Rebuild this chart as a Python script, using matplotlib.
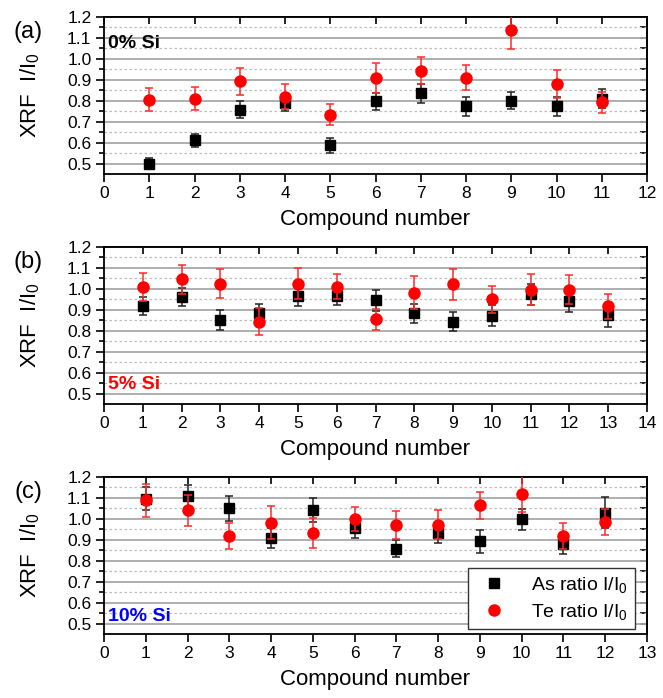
import matplotlib
matplotlib.use("Agg")
import matplotlib.pyplot as plt
from matplotlib.lines import Line2D
import numpy as np

plt.rcParams['font.family'] = ['Liberation Sans', 'DejaVu Sans']
plt.rcParams['mathtext.fontset'] = 'custom'
plt.rcParams['mathtext.rm'] = 'Liberation Sans'
plt.rcParams['mathtext.it'] = 'Liberation Sans:italic'

# panel (a) 0% Si
as_a = [0.50, 0.611, 0.757, 0.79, 0.587, 0.798, 0.836, 0.773, 0.801, 0.773, 0.81]
as_a_err = [0.025, 0.03, 0.04, 0.04, 0.035, 0.04, 0.045, 0.045, 0.04, 0.045, 0.045]
te_a = [0.804, 0.809, 0.893, 0.82, 0.734, 0.909, 0.944, 0.909, 1.137, 0.88, 0.793]
te_a_err = [0.055, 0.055, 0.065, 0.06, 0.05, 0.07, 0.065, 0.06, 0.09, 0.065, 0.05]

# panel (b) 5% Si
as_b = [0.917, 0.961, 0.850, 0.885, 0.966, 0.966, 0.945, 0.883, 0.843, 0.872, 0.974, 0.94, 0.875]
as_b_err = [0.044, 0.045, 0.047, 0.045, 0.05, 0.045, 0.05, 0.045, 0.045, 0.05, 0.05, 0.05, 0.055]
te_b = [1.009, 1.045, 1.025, 0.843, 1.025, 1.01, 0.855, 0.982, 1.021, 0.951, 0.996, 0.996, 0.917]
te_b_err = [0.068, 0.07, 0.07, 0.065, 0.075, 0.06, 0.05, 0.08, 0.075, 0.065, 0.075, 0.068, 0.06]

# panel (c) 10% Si
as_c = [1.097, 1.107, 1.05, 0.909, 1.043, 0.957, 0.858, 0.933, 0.893, 0.998, 0.88, 1.03]
as_c_err = [0.055, 0.055, 0.058, 0.048, 0.058, 0.05, 0.042, 0.048, 0.055, 0.05, 0.05, 0.075]
te_c = [1.088, 1.04, 0.917, 0.982, 0.933, 0.998, 0.97, 0.973, 1.065, 1.12, 0.918, 0.984]
te_c_err = [0.08, 0.075, 0.062, 0.08, 0.07, 0.058, 0.068, 0.068, 0.065, 0.085, 0.06, 0.063]

panel_letters = ['(a)', '(b)', '(c)']
si_labels = ['0% Si', '5% Si', '10% Si']
si_colors = ['black', '#ff0000', '#0000ff']
si_text_y = [0.83, 0.12, 0.11]
x_max = [12, 14, 13]

W, H = 663, 698
fig = plt.figure(figsize=(W / 100, H / 100), dpi=100)

# axes placement in pixels
px_left, px_right = 104, 647
px_tops = [17, 247, 477]
px_h = 156.6


def draw_panel(ax, n_max, as_v, as_e, te_v, te_e):
    x_as = np.arange(1, len(as_v) + 1)
    x_te = np.arange(1, len(te_v) + 1)

    ax.set_axisbelow(True)
    ax.set_yticks(np.arange(0.5, 1.21, 0.1))
    ax.set_yticks(np.arange(0.55, 1.16, 0.1), minor=True)
    ax.grid(axis='y', which='major', color='#a8a8a8', lw=1.3, ls='-')
    ax.grid(axis='y', which='minor', color='#bdbdbd', lw=0.9, ls=(0, (2, 2)))

    ax.errorbar(x_as, as_v, yerr=as_e, fmt='s', ms=7.5, color='black',
                ecolor='#222222', elinewidth=1.1, capsize=3.2, capthick=1.1, zorder=3)
    ax.errorbar(x_te, te_v, yerr=te_e, fmt='o', ms=8, color='#ff0000',
                ecolor='#ff2a2a', elinewidth=1.1, capsize=3.2, capthick=1.1, zorder=4)

    ax.set_xlim(0, n_max)
    ax.set_ylim(0.452, 1.2)
    ax.set_xticks(np.arange(0, n_max + 1, 1))
    ax.yaxis.set_major_formatter(matplotlib.ticker.FormatStrFormatter('%.1f'))

    ax.tick_params(axis='both', which='major', direction='out', length=6, width=1.2,
                   labelsize=12.5, pad=3)
    ax.tick_params(axis='y', which='minor', direction='out', length=3.5, width=1.2)
    for s in ax.spines.values():
        s.set_linewidth(1.3)

    # top and right ticks point inward
    top = ax.secondary_xaxis('top')
    top.set_xticks(np.arange(0, n_max + 1, 1))
    top.tick_params(direction='in', length=5, width=1.2, labeltop=False)
    top.spines['top'].set_linewidth(1.3)
    right = ax.secondary_yaxis('right')
    right.set_yticks(np.arange(0.5, 1.21, 0.1))
    right.set_yticks(np.arange(0.55, 1.16, 0.1), minor=True)
    right.tick_params(which='both', direction='in', length=5, width=1.2, labelright=False)
    right.spines['right'].set_linewidth(1.3)

    ax.set_ylabel('XRF  I/I$_\\mathrm{0}$', fontsize=16)
    ax.yaxis.set_label_coords(-0.115, 0.5)
    ax.set_xlabel('Compound number', fontsize=16)
    ax.xaxis.set_label_coords(0.5, -0.225)


data = [(as_a, as_a_err, te_a, te_a_err),
        (as_b, as_b_err, te_b, te_b_err),
        (as_c, as_c_err, te_c, te_c_err)]

for i in range(3):
    top_px = px_tops[i]
    rect = [px_left / W, 1 - (top_px + px_h) / H, (px_right - px_left) / W, px_h / H]
    ax = fig.add_axes(rect)
    draw_panel(ax, x_max[i], *data[i])
    ax.text(0.008, si_text_y[i], si_labels[i], transform=ax.transAxes, fontsize=14,
            fontweight='bold', color=si_colors[i], ha='left', va='center')
    fig.text(28 / W, 1 - (top_px + 15) / H, panel_letters[i], fontsize=17,
             ha='center', va='center')
    if i == 2:
        handles = [Line2D([], [], marker='s', ls='none', color='black', ms=7.5),
                   Line2D([], [], marker='o', ls='none', color='#ff0000', ms=8)]
        leg = ax.legend(handles, ['As ratio I/I$_\\mathrm{0}$', 'Te ratio I/I$_\\mathrm{0}$'],
                        loc='lower right', bbox_to_anchor=(0.978, 0.03), borderaxespad=0,
                        fontsize=14, fancybox=False, framealpha=1, edgecolor='#333333',
                        handletextpad=0.9, labelspacing=0.35, borderpad=0.35)
        leg.get_frame().set_linewidth(1.0)
        leg.set_zorder(10)

fig.savefig('out.png', dpi=100)
